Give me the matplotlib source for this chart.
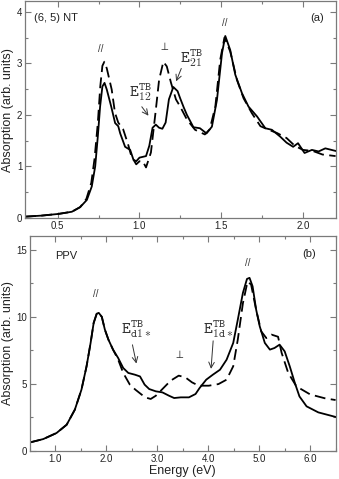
from matplotlib import pyplot as plt
from matplotlib.ticker import MultipleLocator

plt.rcParams['font.family'] = ['Liberation Sans', 'DejaVu Sans']

# (6,5) nanotube, solid and dashed spectra
nt_x_solid = [0.3, 0.4, 0.504, 0.586, 0.637, 0.678, 0.708, 0.729, 0.745, 0.759, 0.773, 0.786,
              0.8, 0.827, 0.851, 0.87, 0.882, 0.912, 0.943, 0.963, 0.98, 1.0, 1.04, 1.06,
              1.08, 1.10, 1.12, 1.14, 1.16, 1.18, 1.207, 1.233, 1.249, 1.27, 1.29, 1.33,
              1.37, 1.41, 1.443, 1.474, 1.505, 1.525, 1.555, 1.586, 1.627, 1.667, 1.719,
              1.77, 1.81, 1.86, 1.9, 1.94, 1.97, 2.01, 2.055, 2.096, 2.137, 2.2]
nt_y_solid = [0.025, 0.045, 0.078, 0.12, 0.21, 0.35, 0.61, 1.0, 1.58, 2.16, 2.55, 2.62,
              2.49, 2.16, 1.84, 1.78, 1.64, 1.38, 1.32, 1.13, 1.1, 1.17, 1.2, 1.4,
              1.75, 1.81, 1.75, 1.73, 1.85, 2.30, 2.54, 2.46, 2.32, 2.15, 2.0, 1.76,
              1.74, 1.64, 1.77, 2.29, 3.2, 3.53, 3.26, 2.78, 2.42, 2.16, 1.97,
              1.74, 1.71, 1.58, 1.46, 1.38, 1.45, 1.26, 1.32, 1.29, 1.35, 1.30]
nt_x_dash = [0.3, 0.4, 0.504, 0.586, 0.637, 0.675, 0.705, 0.725, 0.745, 0.76, 0.773, 0.785,
             0.80, 0.83, 0.85, 0.87, 0.90, 0.93, 0.95, 0.98, 1.0, 1.02, 1.04, 1.07, 1.10,
             1.12, 1.146, 1.167, 1.193, 1.223, 1.249, 1.29, 1.34, 1.40, 1.43, 1.464,
             1.494, 1.52, 1.555, 1.596, 1.637, 1.688, 1.74, 1.79, 1.84, 1.9, 1.95, 2.0,
             2.06, 2.12, 2.2]
nt_y_dash = [0.025, 0.045, 0.078, 0.12, 0.21, 0.37, 0.68, 1.15, 1.84, 2.55, 2.95, 3.03,
             2.9, 2.49, 2.04, 1.85, 1.72, 1.43, 1.20, 1.04, 1.1, 1.1, 0.98, 1.27, 2.1,
             2.68, 3.03, 2.94, 2.62, 2.30, 2.16, 1.91, 1.71, 1.62, 1.72, 2.16,
             3.07, 3.5, 3.23, 2.68, 2.32, 2.03, 1.78, 1.71, 1.65, 1.55, 1.4, 1.32,
             1.3, 1.23, 1.2]

# PPV, solid and dashed spectra
ppv_x_solid = [0.5, 0.76, 1.02, 1.22, 1.38, 1.51, 1.61, 1.69, 1.75, 1.81, 1.85, 1.91, 1.97,
               2.04, 2.13, 2.23, 2.33, 2.43, 2.56, 2.66, 2.75, 2.84, 2.97, 3.1, 3.23, 3.33,
               3.46, 3.62, 3.75, 3.83, 3.96, 4.09, 4.23, 4.36, 4.49, 4.58, 4.68, 4.76, 4.81,
               4.87, 4.94, 5.01, 5.11, 5.21, 5.3, 5.4, 5.5, 5.6, 5.7, 5.79, 5.93, 6.16, 6.5]
ppv_y_solid = [0.62, 0.87, 1.32, 1.94, 3.06, 4.55, 6.29, 8.04, 9.53, 10.22, 10.28, 9.98, 9.03,
               8.28, 7.54, 6.92, 6.17, 5.8, 5.67, 5.54, 4.93, 4.6, 4.43, 4.35, 4.1, 3.93,
               3.98, 3.98, 4.23, 4.68, 5.3, 5.67, 6.04, 6.79, 8.04, 9.78, 11.77, 12.81, 12.89,
               12.26, 10.52, 9.28, 8.04, 7.54, 7.66, 7.91, 7.41, 6.29, 5.05, 4.05, 3.31, 2.86,
               2.52]
ppv_x_dash = [0.5, 0.76, 1.02, 1.22, 1.38, 1.51, 1.61, 1.69, 1.75, 1.81, 1.85, 1.91, 1.97,
              2.04, 2.13, 2.23, 2.33, 2.46, 2.57, 2.76, 2.87, 2.97, 3.1, 3.26, 3.42, 3.55,
              3.68, 3.81, 4.01, 4.2, 4.36, 4.49, 4.58, 4.68, 4.77, 4.84, 4.94, 5.04, 5.14,
              5.24, 5.37, 5.44, 5.57, 5.73, 6.0, 6.3, 6.5]
ppv_y_dash = [0.62, 0.87, 1.32, 1.94, 3.06, 4.55, 6.29, 8.04, 9.53, 10.22, 10.28, 9.98, 9.03,
              8.28, 7.54, 6.8, 5.8, 4.93, 4.55, 3.98, 3.86, 4.1, 4.6, 5.22, 5.6, 5.47,
              5.1, 4.85, 4.85, 4.97, 5.3, 6.3, 8.3, 11.0, 12.6, 12.4, 10.5, 8.9, 8.4,
              8.66, 8.5, 7.3, 5.8, 4.8, 4.2, 3.9, 3.78]

grey = '#7a7a7a'
txt = '#333333'

fig = plt.figure(figsize=(3.39, 4.79), dpi=100)
ax1 = fig.add_axes([0.074, 0.545, 0.916, 0.452])
ax2 = fig.add_axes([0.0885, 0.059, 0.9015, 0.448])


def style(ax):
    for s in ax.spines.values():
        s.set_color(grey)
        s.set_linewidth(0.9)
    ax.tick_params(which='both', direction='in', top=True, right=True,
                   color=grey, labelsize=7, pad=2, labelcolor='#222222')
    ax.tick_params(which='major', length=4, width=0.8)
    ax.tick_params(which='minor', length=2.5, width=0.8)
    ax.set_ylabel('Absorption (arb. units)', fontsize=9, labelpad=2, color='#222222')


def tb_label(ax, x, y, sub):
    s = r'$\mathtt{E}^{\mathtt{TB}}_{\mathtt{%s}}$' % sub
    ax.text(x, y, s, fontsize=12, math_fontfamily='cm', color=txt,
            ha='left', va='baseline')


# top panel
ax1.plot(nt_x_solid, nt_y_solid, color='black', lw=1.3)
ax1.plot(nt_x_dash, nt_y_dash, color='black', lw=1.3, dashes=(6, 3))
ax1.set_xlim(0.3, 2.2)
ax1.set_ylim(0, 4.2)
ax1.xaxis.set_major_locator(MultipleLocator(0.5))
ax1.xaxis.set_minor_locator(MultipleLocator(0.25))
ax1.yaxis.set_major_locator(MultipleLocator(1))
ax1.yaxis.set_minor_locator(MultipleLocator(0.5))
ax1.xaxis.set_major_formatter(lambda v, p: '%.1f' % v)
style(ax1)
ax1.text(0.355, 3.88, '(6, 5) NT', fontsize=8, color='#222222', va='center')
ax1.text(2.045, 3.88, '(a)', fontsize=8, color='#222222', va='center')
ax1.text(0.763, 3.22, '//', fontsize=7, color=txt, ha='center')
ax1.text(1.522, 3.72, '//', fontsize=7, color=txt, ha='center')
ax1.text(1.145, 3.25, r'$\perp$', fontsize=8, color=txt, ha='center')
tb_label(ax1, 0.935, 2.36, '12')
ax1.annotate('', xy=(1.065, 1.94), xytext=(1.004, 2.2),
             arrowprops=dict(arrowstyle='->', color=txt, lw=0.7))
tb_label(ax1, 1.248, 3.02, '21')
ax1.annotate('', xy=(1.218, 2.6), xytext=(1.262, 2.95),
             arrowprops=dict(arrowstyle='->', color=txt, lw=0.7))

# bottom panel
ax2.plot(ppv_x_solid, ppv_y_solid, color='black', lw=1.3)
ax2.plot(ppv_x_dash, ppv_y_dash, color='black', lw=1.3, dashes=(6, 3))
ax2.set_xlim(0.5, 6.5)
ax2.set_ylim(0, 16)
ax2.xaxis.set_major_locator(MultipleLocator(1))
ax2.xaxis.set_minor_locator(MultipleLocator(0.5))
ax2.yaxis.set_major_locator(MultipleLocator(5))
ax2.yaxis.set_minor_locator(MultipleLocator(2.5))
ax2.xaxis.set_major_formatter(lambda v, p: '%.1f' % v)
style(ax2)
ax2.set_xlabel('Energy (eV)', fontsize=9, labelpad=1, color='#222222')
ax2.text(1.0, 14.55, 'PPV', fontsize=8, color='#222222', va='center')
ax2.text(5.85, 14.65, '(b)', fontsize=8, color='#222222', va='center')
ax2.text(1.8, 11.5, '//', fontsize=7, color=txt, ha='center')
ax2.text(4.78, 13.8, '//', fontsize=7, color=txt, ha='center')
ax2.text(3.42, 6.9, r'$\perp$', fontsize=8, color=txt, ha='center')
tb_label(ax2, 2.28, 8.7, 'd1*')
ax2.annotate('', xy=(2.6, 6.3), xytext=(2.5, 8.1),
             arrowprops=dict(arrowstyle='->', color=txt, lw=0.7))
tb_label(ax2, 3.9, 8.7, '1d*')
ax2.annotate('', xy=(4.05, 5.9), xytext=(4.1, 8.4),
             arrowprops=dict(arrowstyle='->', color=txt, lw=0.7))

fig.savefig('out.png', dpi=100)
